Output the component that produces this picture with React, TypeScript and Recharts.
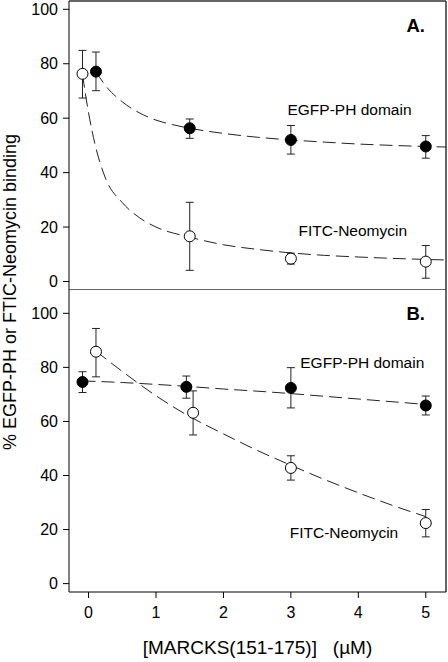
import {
  ComposedChart, Line, Scatter, XAxis, YAxis, ErrorBar, ReferenceLine,
} from "recharts";

const xTicks = [0, 1, 2, 3, 4, 5];
const yTicks = [0, 20, 40, 60, 80, 100];

// panel A – measured points, err = [down, up]
const aEgfpPts = [
  { x: 0.11, y: 77.1, err: [7.0, 7.2] },
  { x: 1.5, y: 56.3, err: [3.7, 3.4] },
  { x: 3.0, y: 52.0, err: [5.2, 5.3] },
  { x: 5.0, y: 49.6, err: [4.3, 4.0] },
];
const aFitcPts = [
  { x: -0.09, y: 76.3, err: [8.9, 8.6] },
  { x: 1.5, y: 16.6, err: [12.5, 12.5] },
  { x: 3.0, y: 8.4, err: [2, 2] },
  { x: 5.0, y: 7.3, err: [6.1, 5.9] },
];
// panel A – fitted curves
const aEgfpFit = [
  { x: 0.11, y: 77 }, { x: 0.25, y: 72 }, { x: 0.5, y: 66 }, { x: 0.75, y: 62 },
  { x: 1, y: 59.3 }, { x: 1.25, y: 57.6 }, { x: 1.5, y: 56.3 }, { x: 2, y: 54.4 },
  { x: 2.5, y: 53 }, { x: 3, y: 52 }, { x: 3.5, y: 51.2 }, { x: 4, y: 50.5 },
  { x: 4.5, y: 50 }, { x: 5, y: 49.6 }, { x: 5.3, y: 49.4 },
];
const aFitcFit = [
  { x: -0.09, y: 76 }, { x: 0, y: 62 }, { x: 0.1, y: 50 }, { x: 0.25, y: 38 },
  { x: 0.5, y: 29 }, { x: 0.75, y: 23.5 }, { x: 1, y: 20 }, { x: 1.5, y: 16.3 },
  { x: 2, y: 13.5 }, { x: 2.5, y: 11.8 }, { x: 3, y: 10.5 }, { x: 3.5, y: 9.6 },
  { x: 4, y: 9 }, { x: 4.5, y: 8.5 }, { x: 5, y: 8.1 }, { x: 5.3, y: 7.9 },
];

// panel B
const bEgfpPts = [
  { x: -0.09, y: 74.6, err: [3.9, 3.8] },
  { x: 1.45, y: 72.8, err: [4.2, 4.0] },
  { x: 3.0, y: 72.4, err: [7.4, 7.5] },
  { x: 5.0, y: 65.9, err: [3.5, 3.5] },
];
const bFitcPts = [
  { x: 0.11, y: 85.8, err: [9.3, 8.6] },
  { x: 1.55, y: 63.2, err: [8.2, 8.1] },
  { x: 3.0, y: 42.8, err: [4.5, 4.5] },
  { x: 5.0, y: 22.4, err: [5.1, 5.0] },
];
const bEgfpFit = [
  { x: -0.09, y: 75 }, { x: 0.5, y: 74.4 }, { x: 1, y: 73.7 }, { x: 1.5, y: 72.9 },
  { x: 2, y: 72 }, { x: 2.5, y: 71.2 }, { x: 3, y: 70.3 }, { x: 3.5, y: 69.3 },
  { x: 4, y: 68.3 }, { x: 4.5, y: 67.3 }, { x: 5, y: 66.3 },
];
const bFitcFit = [
  { x: 0.11, y: 86 }, { x: 0.5, y: 78.5 }, { x: 1, y: 69.5 }, { x: 1.5, y: 61.8 },
  { x: 2, y: 55.4 }, { x: 2.5, y: 49.3 }, { x: 3, y: 43.8 }, { x: 3.5, y: 38.5 },
  { x: 4, y: 33.6 }, { x: 4.5, y: 29 }, { x: 5, y: 24.8 },
];

const FONT = "'Liberation Sans', Arial, sans-serif";
const X_DOMAIN = [-0.29, 5.3];
const tickStyle = { fill: "#000", fontSize: 16, fontFamily: FONT };
const dash = "13 6";

const dot = (fill: string) => (p: any) => (
  <circle cx={p.cx} cy={p.cy} r={5.5} fill={fill} stroke="#000" strokeWidth={1} />
);

function Panel({ egfpPts, fitcPts, egfpFit, fitcFit, yDomain, bottom, top }: any) {
  return (
    <ComposedChart
      width={448}
      height={bottom ? 373 : 290}
      margin={{ top: top, right: 2, bottom: bottom ? 0 : 1, left: 0 }}
    >
      <XAxis
        type="number"
        dataKey="x"
        domain={X_DOMAIN}
        ticks={xTicks}
        interval={0}
        allowDataOverflow
        hide={!bottom}
        height={70}
        tick={tickStyle}
        tickSize={6}
        tickMargin={9}
        stroke="#000"
      />
      <YAxis
        type="number"
        dataKey="y"
        domain={yDomain}
        ticks={yTicks}
        interval={0}
        allowDataOverflow
        width={69}
        tick={tickStyle}
        tickSize={6}
        tickMargin={5}
        stroke="#000"
      />
      <ReferenceLine y={yDomain[1]} stroke="#333" strokeWidth={1.5} />
      <ReferenceLine x={X_DOMAIN[1]} stroke="#333" strokeWidth={1.5} />
      <Line data={egfpFit} dataKey="y" type="monotone" stroke="#222" strokeWidth={1}
        strokeDasharray={dash} dot={false} isAnimationActive={false} />
      <Line data={fitcFit} dataKey="y" type="monotone" stroke="#222" strokeWidth={1}
        strokeDasharray={dash} dot={false} isAnimationActive={false} />
      <Scatter data={fitcPts} dataKey="y" shape={dot("#fff")} isAnimationActive={false}>
        <ErrorBar dataKey="err" direction="y" width={4} stroke="#222" strokeWidth={1} />
      </Scatter>
      <Scatter data={egfpPts} dataKey="y" shape={dot("#000")} isAnimationActive={false}>
        <ErrorBar dataKey="err" direction="y" width={4} stroke="#222" strokeWidth={1} />
      </Scatter>
    </ComposedChart>
  );
}

export default function App() {
  return (
    <div style={{ position: "absolute", left: 0, top: 0, width: 448, height: 662, background: "#fff" }}>
      <div style={{ position: "absolute", left: 0, top: 0 }}>
        <Panel egfpPts={aEgfpPts} fitcPts={aFitcPts} egfpFit={aEgfpFit} fitcFit={aFitcFit}
          yDomain={[-2.76, 103.05]} top={1} bottom={false} />
      </div>
      <div style={{ position: "absolute", left: 0, top: 289 }}>
        <Panel egfpPts={bEgfpPts} fitcPts={bFitcPts} egfpFit={bEgfpFit} fitcFit={bFitcFit}
          yDomain={[-3.1, 109]} top={0} bottom />
      </div>
      <svg width={448} height={662} style={{ position: "absolute", left: 0, top: 0, pointerEvents: "none" }}
        fontFamily={FONT}>
        <text x={415.7} y={31.7} textAnchor="middle" fontSize={18.5} fontWeight="bold">A.</text>
        <text x={415.7} y={320} textAnchor="middle" fontSize={18.5} fontWeight="bold">B.</text>
        <text x={349.5} y={114.5} textAnchor="middle" fontSize={15.5}>EGFP-PH domain</text>
        <text x={352.8} y={235.5} textAnchor="middle" fontSize={15.5}>FITC-Neomycin</text>
        <text x={362.3} y={368} textAnchor="middle" fontSize={15.5}>EGFP-PH domain</text>
        <text x={344} y={538} textAnchor="middle" fontSize={15.5}>FITC-Neomycin</text>
        <text x={257.5} y={654} textAnchor="middle" fontSize={19}>
          {"[MARCKS(151-175)]\u00A0\u00A0\u00A0(µM)"}
        </text>
        <text x={16} y={292} textAnchor="middle" fontSize={18} transform="rotate(-90 16 292)">
          % EGFP-PH or FTIC-Neomycin binding
        </text>
      </svg>
    </div>
  );
}
